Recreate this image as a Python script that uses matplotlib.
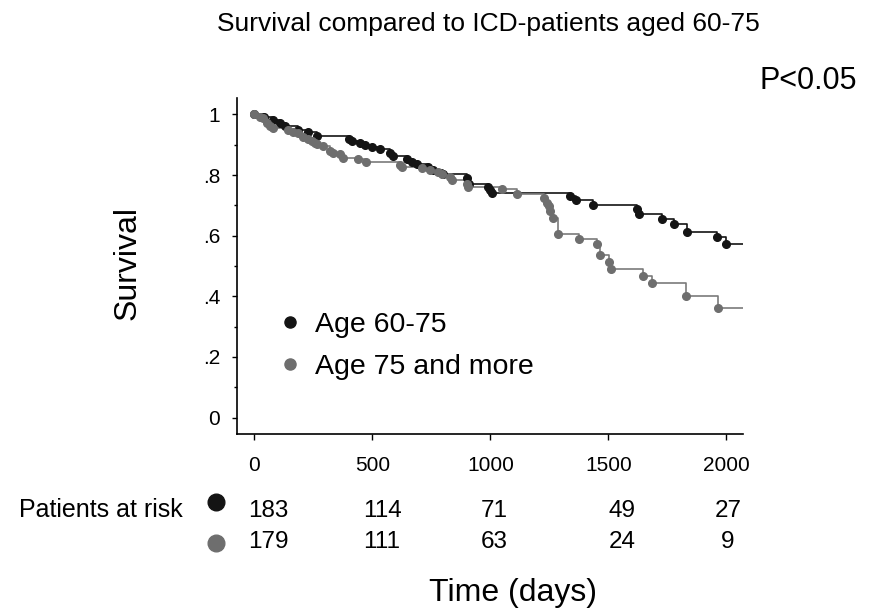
import matplotlib.pyplot as plt
import matplotlib.transforms as mtransforms
from matplotlib.lines import Line2D
import numpy as np

plt.rcParams['font.family'] = ['Liberation Sans', 'DejaVu Sans']

# Kaplan-Meier steps (time in days, survival after the event)
t_young = [0, 40, 80, 109, 130, 186, 229, 264, 400, 413, 448, 469, 497, 532, 575,
           589, 646, 667, 688, 737, 758, 801, 900, 910, 991, 997, 1005, 1337,
           1363, 1436, 1620, 1630, 1728, 1778, 1832, 1959, 1997]
s_young = [1.0, 0.992, 0.983, 0.970, 0.961, 0.950, 0.943, 0.930, 0.920, 0.913,
           0.906, 0.900, 0.893, 0.885, 0.873, 0.862, 0.853, 0.844, 0.836, 0.825,
           0.816, 0.805, 0.789, 0.772, 0.761, 0.750, 0.740, 0.730, 0.717, 0.701,
           0.687, 0.670, 0.654, 0.637, 0.612, 0.596, 0.572]

t_old = [0, 25, 37, 52, 66, 80, 144, 165, 186, 208, 229, 243, 257, 264, 292, 321,
         334, 363, 377, 441, 474, 617, 624, 709, 744, 779, 794, 829, 836, 900,
         907, 1048, 1111, 1229, 1240, 1248, 1252, 1264, 1288, 1375, 1450, 1465,
         1504, 1511, 1645, 1683, 1827, 1966]
s_old = [1.0, 0.992, 0.987, 0.970, 0.962, 0.955, 0.950, 0.943, 0.937, 0.926,
         0.920, 0.913, 0.906, 0.902, 0.897, 0.880, 0.873, 0.868, 0.857, 0.852,
         0.844, 0.833, 0.826, 0.822, 0.816, 0.811, 0.803, 0.792, 0.784, 0.772,
         0.761, 0.754, 0.739, 0.723, 0.709, 0.699, 0.682, 0.657, 0.607, 0.589,
         0.572, 0.536, 0.514, 0.490, 0.467, 0.443, 0.402, 0.362]

follow_up_end = 2070

groups = ['Age 60-75', 'Age 75 and more']
risk_times = [0, 500, 1000, 1500, 2000]
risk_young = [183, 114, 71, 49, 27]
risk_old = [179, 111, 63, 24, 9]

yticks = [0, 0.2, 0.4, 0.6, 0.8, 1.0]
ytick_labels = ['0', '.2', '.4', '.6', '.8', '1']
xticks = [0, 500, 1000, 1500, 2000]

black = '#141414'
grey = '#6e6e6e'
W, H = 881, 611


def fx(px):
    return px / W


def fy(py):
    return 1 - py / H


fig = plt.figure(figsize=(W / 100, H / 100), dpi=100)
ax = fig.add_axes([fx(236.7), fy(434), (742.9 - 236.7) / W, (434 - 98.3) / H])

for t, s, c, lc in [(t_young, s_young, black, black), (t_old, s_old, grey, '#7a7a7a')]:
    tt = t + [follow_up_end]
    ss = s + [s[-1]]
    ax.step(tt, ss, where='post', color=lc, lw=1.2, zorder=2)
    ax.plot(t, s, 'o', color=c, ms=5.5, mec=c, zorder=3)

ax.set_xlim(-75, 2070)
ax.set_ylim(-0.054, 1.053)
ax.set_xticks(xticks)
ax.set_xticklabels([str(v) for v in xticks])
ax.set_yticks(yticks)
ax.set_yticklabels(ytick_labels)
ax.set_yticks(np.arange(0.1, 1.0, 0.2), minor=True)
ax.tick_params(axis='y', which='major', length=3.6, width=1, pad=8.4, labelsize=15)
ax.tick_params(axis='y', which='minor', length=2, width=1)
ax.tick_params(axis='x', which='major', length=4, width=1, pad=12, labelsize=15)
for side in ['top', 'right']:
    ax.spines[side].set_visible(False)
for side in ['left', 'bottom']:
    ax.spines[side].set_linewidth(1.2)

# legend
handles = [Line2D([], [], marker='o', ls='none', color=black, ms=8),
           Line2D([], [], marker='o', ls='none', color=grey, ms=8)]
ax.legend(handles, groups, loc='upper left', bbox_to_anchor=(fx(267), fy(298)),
          bbox_transform=fig.transFigure, frameon=False, fontsize=20.5,
          handlelength=0.6, handletextpad=0.58, labelspacing=0.55, borderpad=0)

# text
fig.text(fx(488), fy(31), 'Survival compared to ICD-patients aged 60-75',
         ha='center', va='baseline', fontsize=19)
fig.text(fx(759), fy(89), 'P<0.05', ha='left', va='baseline', fontsize=22)
fig.text(fx(128), fy(263), 'Survival', rotation=90, ha='center', va='center', fontsize=23)
fig.text(fx(513), fy(593), 'Time (days)', ha='center', va='center', fontsize=23)

# numbers at risk
fig.text(fx(183), fy(510), 'Patients at risk', ha='right', va='center', fontsize=18)
fig.lines.append(Line2D([fx(216)], [fy(502)], marker='o', ms=12, color=black,
                        transform=fig.transFigure, figure=fig))
fig.lines.append(Line2D([fx(216)], [fy(543)], marker='o', ms=12, color=grey,
                        transform=fig.transFigure, figure=fig))
nudge = [61, 41, 16, 58, 7]
trans = mtransforms.blended_transform_factory(ax.transData, fig.transFigure)
for t, d, a, b in zip(risk_times, nudge, risk_young, risk_old):
    ax.text(t + d, fy(511), str(a), transform=trans, ha='center', va='center',
            fontsize=17.5, clip_on=False)
    ax.text(t + d, fy(542), str(b), transform=trans, ha='center', va='center',
            fontsize=17.5, clip_on=False)

fig.savefig('out.png', dpi=100)
